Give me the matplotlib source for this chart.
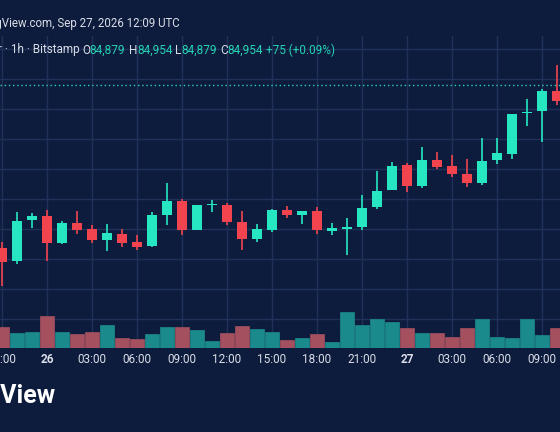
import numpy as np
import matplotlib
matplotlib.use("Agg")
import matplotlib.pyplot as plt

# hourly BTC/USD candles
opens = [84139, 84074, 84279, 84299, 84164, 84264, 84234, 84179, 84209, 84169,
         84149, 84304, 84374, 84229, 84356, 84354, 84269, 84184, 84229, 84329,
         84304, 84324, 84224, 84234, 84244, 84344, 84429, 84554, 84449, 84579,
         84549, 84509, 84464, 84579, 84609, 84814, 84824, 84924]
highs = [84169, 84319, 84314, 84329, 84274, 84324, 84254, 84259, 84234, 84204,
         84319, 84464, 84384, 84354, 84379, 84364, 84324, 84259, 84334, 84349,
         84324, 84344, 84264, 84289, 84404, 84524, 84569, 84564, 84644, 84619,
         84604, 84584, 84689, 84689, 84809, 84884, 84934, 85054]
lows = [83949, 84059, 84239, 84074, 84159, 84209, 84164, 84124, 84144, 84129,
        84144, 84254, 84204, 84229, 84319, 84254, 84129, 84169, 84219, 84289,
        84259, 84209, 84204, 84104, 84229, 84334, 84429, 84419, 84439, 84534,
        84494, 84444, 84454, 84559, 84584, 84749, 84669, 84854]
closes = [84069, 84274, 84299, 84164, 84264, 84229, 84179, 84214, 84164, 84144,
          84304, 84374, 84229, 84354, 84359, 84269, 84184, 84234, 84329, 84304,
          84324, 84229, 84239, 84244, 84339, 84424, 84549, 84449, 84579, 84544,
          84509, 84464, 84574, 84614, 84809, 84819, 84924, 84874]
volumes = [21, 15, 16, 32, 16, 14, 16, 23, 10, 9, 14, 21, 21, 18, 7, 15, 22, 19, 16,
           8, 10, 14, 6, 36, 23, 29, 26, 20, 15, 15, 11, 20, 29, 11, 10, 29, 13, 20]
last_price = 84954
tick_pos = [0, 3, 6, 9, 12, 15, 18, 21, 24, 27, 30, 33, 36]
tick_labels = ["00:00", "26", "03:00", "06:00", "09:00", "12:00", "15:00",
               "18:00", "21:00", "27", "03:00", "06:00", "09:00"]

BG = "#0d1c3d"
GRID = "#1f3158"
UP = "#26e7c2"
DOWN = "#f2444f"
UPV = "#1b8a8c"
DOWNV = "#a4505f"
TXT = "#d9dde6"
TEAL = "#24d3b4"

fig = plt.figure(figsize=(5.6, 4.32), dpi=100, facecolor=BG)
ax = fig.add_axes([0, 84 / 432, 1, 312 / 432])
ax.set_facecolor(BG)
x = np.arange(len(opens))
ax.set_xlim(-2 / 15, 558 / 15)
ax.set_ylim(83639, 85199)

# grid
for yv in np.arange(83784, 85200, 150):
    ax.axhline(yv, color=GRID, lw=1, zorder=0)
for xv in tick_pos:
    ax.axvline(xv, color=GRID, lw=1, zorder=0)

# volume on a separate scale
axv = ax.twinx()
axv.set_ylim(0, 312)
axv.set_xlim(ax.get_xlim())
vcol = [UPV if c >= o else DOWNV for o, c in zip(opens, closes)]
axv.bar(x, volumes, width=0.95, color=vcol, edgecolor=vcol, lw=0.5, zorder=1)

for i in range(len(opens)):
    col = UP if closes[i] >= opens[i] else DOWN
    ax.vlines(i, lows[i], highs[i], color=col, lw=1.2, zorder=3)
    lo, hi = sorted([opens[i], closes[i]])
    ax.bar(i, max(hi - lo, 4), bottom=lo, width=0.68, color=col, zorder=4)

ax.axhline(last_price, color=TEAL, lw=1, ls=(0, (1, 2)), zorder=2)

for a in (ax, axv):
    a.set_yticks([])
    for s in a.spines.values():
        s.set_visible(False)
axv.set_xticks([])
ax.set_xticks([])

for p, lab in zip(tick_pos, tick_labels):
    bold = lab in ("26", "27")
    ax.text(p, -0.038, lab, transform=ax.get_xaxis_transform(), ha="center",
            va="center", color=TXT, fontsize=8.5, fontweight="bold" if bold else "normal",
            family="Roboto")

W, H = 560, 432
def ftext(px, py, s, **kw):
    fig.text(px / W, 1 - py / H, s, family="Roboto", **kw)

ftext(180, 24, "Published on TradingView.com, Sep 27, 2026 12:09 UTC", ha="right",
      va="center", color=TXT, fontsize=8.3)
ftext(80, 50, "Bitcoin / U.S. Dollar · 1h · Bitstamp", ha="right", va="center",
      color=TXT, fontsize=8.5)
parts = [(82, "O", TXT), (89, "84,879", TEAL), (129, "H", TXT), (137, "84,954", TEAL),
         (175, "L", TXT), (181, "84,879", TEAL), (220, "C", TXT), (227, "84,954", TEAL),
         (266, "+75 (+0.09%)", TEAL)]
for px, s, c in parts:
    ftext(px, 50, s, ha="left", va="center", color=c, fontsize=8.5)

ftext(56, 396, "TradingView", ha="right", va="center", color="white",
      fontsize=18, fontweight="bold")

fig.savefig("out.png", dpi=100, facecolor=BG)
